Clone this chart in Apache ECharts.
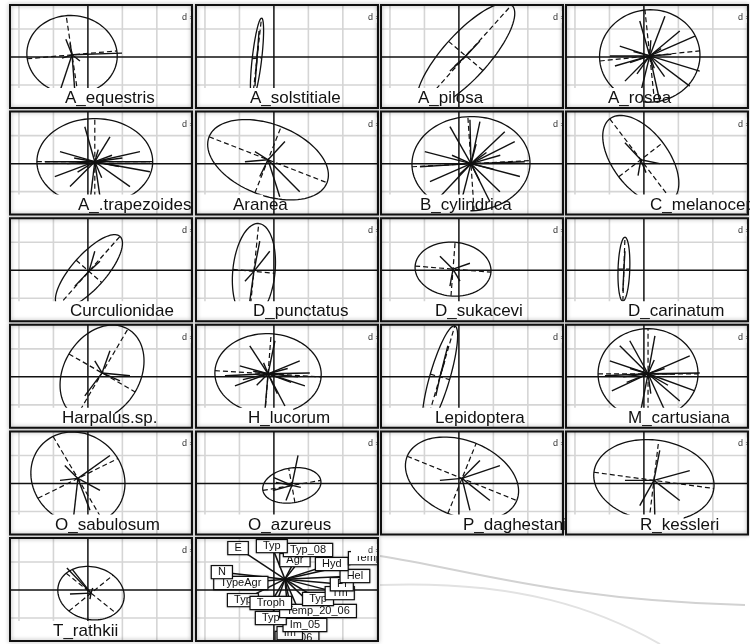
<!DOCTYPE html>
<html>
<head>
<meta charset="utf-8">
<script src="https://cdn.jsdelivr.net/npm/echarts@6/dist/echarts.min.js"></script>
<style>
  html, body { margin: 0; padding: 0; background: #fff; }
  #chart { width: 750px; height: 644px; }
</style>
</head>
<body>
<div id="chart"></div>
<script>
// Species (classes) shown one per panel, in reading order.
const speciesNames = [
  'A_equestris', 'A_solstitiale', 'A_pilosa', 'A_rosea',
  'A_.trapezoides', 'Aranea', 'B_cylindrica', 'C_melanocephalus',
  'Curculionidae', 'D_punctatus', 'D_sukacevi', 'D_carinatum',
  'Harpalus.sp.', 'H_lucorum', 'Lepidoptera', 'M_cartusiana',
  'O_sabulosum', 'O_azureus', 'P_daghestanic', 'R_kessleri',
  'T_rathkii'
];

// Class gravity centres (x, y) on the factorial plane.
const classCenters = [
  [-0.46, 0.08], [-0.49, -0.04], [0.20, 0.04], [0.17, 0.04],
  [0.20, 0.07], [-0.17, 0.14], [0.35, 0.00], [-0.09, 0.14],
  [0.03, -0.04], [-0.58, -0.04], [-0.17, 0.04], [-0.58, 0.04],
  [0.41, 0.14], [-0.17, 0.11], [-0.55, 0.00], [0.12, 0.11],
  [-0.29, 0.18], [0.52, -0.07], [0.09, 0.18], [0.29, 0.11],
  [0.09, -0.11]
];

// First semi-axis of each inertia ellipse.
const majorAxes = [
  [1.30, 0.14], [0.13, 1.43], [1.33, 1.82], [1.45, 0.18],
  [1.68, 0.00], [1.71, -0.82], [1.71, 0.11], [0.90, -1.46],
  [0.90, 1.25], [0.14, 1.71], [1.10, -0.11], [0.03, 1.14],
  [0.75, 1.57], [1.54, -0.11], [0.43, 1.82], [1.45, 0.00],
  [0.72, -1.50], [0.84, 0.18], [1.59, -0.79], [1.74, -0.29],
  [0.72, -0.71]
];

// Second semi-axis of each inertia ellipse.
const minorAxes = [
  [-0.17, 1.40], [0.14, 0.02], [0.50, -0.52], [-0.14, 1.64],
  [0.00, 1.54], [0.38, 1.18], [-0.09, 1.68], [0.64, 0.61],
  [0.37, -0.40], [0.61, -0.07], [0.06, 0.96], [0.17, 0.00],
  [0.96, -0.68], [0.09, 1.43], [0.28, -0.10], [0.00, 1.61],
  [1.16, 0.71], [-0.09, 0.61], [0.41, 1.25], [0.14, 1.43],
  [0.64, 0.64]
];

// Sample scores belonging to each class (star branches).
const samplePoints = [
  [[-0.81, -1.21], [-0.38, -1.21], [0.99, 0.14], [-0.64, 0.64], [-0.52, 0.50], [-0.75, -0.04], [-0.23, -0.14]],
  [[-0.43, 0.93], [-0.55, -1.04], [-0.46, 0.39], [-0.52, -0.50]],
  [[-0.26, -0.50], [0.61, 0.57], [0.32, 0.21], [-0.12, -0.32]],
  [[1.48, 0.75], [1.62, -0.50], [-0.70, 0.39], [-0.84, -0.32], [-0.12, -1.39], [0.46, -1.57], [0.61, 1.46], [-0.12, 1.29], [-0.99, 0.04], [1.33, -1.04], [1.04, 0.93], [-0.55, -0.86],
   [0.50, 0.30], [0.30, -0.40], [-0.30, 0.20], [0.80, 0.10], [-0.40, -0.20], [0.20, 0.60], [0.60, -0.70], [-0.20, -0.60]],
  [[1.51, 0.43], [1.80, -0.29], [-0.81, 0.43], [-0.96, -0.46], [0.06, -1.36], [0.35, -1.18], [-0.09, 1.32], [0.64, 0.96], [1.22, -0.82], [-0.52, -0.82], [-1.25, 0.07], [1.80, 0.07],
   [0.70, 0.30], [0.90, -0.10], [-0.40, 0.20], [-0.30, -0.30], [0.40, -0.50], [0.30, 0.50], [1.00, 0.20], [-0.60, 0.00]],
  [[0.75, -1.00], [0.17, -1.18], [-0.55, 0.43], [-0.84, 0.07], [0.32, 0.79], [-0.41, -0.46]],
  [[1.62, 0.79], [1.77, -0.46], [-0.99, 0.43], [-0.84, -0.64], [0.03, -1.54], [0.90, -1.36], [0.61, 1.50], [-0.26, 1.32], [1.19, -1.00], [-0.55, -1.18], [1.33, 1.14], [-1.13, -0.11], [0.32, 1.57], [1.91, 0.07],
   [0.80, 0.40], [1.00, -0.20], [-0.20, 0.30], [0.00, -0.40], [0.60, -0.60], [0.50, 0.70], [-0.40, 0.00], [1.20, 0.30]],
  [[-0.55, 0.75], [0.46, 0.00], [-0.17, -0.43], [0.06, -0.32]],
  [[-0.38, -0.57], [0.35, 0.32], [-0.09, -0.21], [0.20, 0.68]],
  [[-0.12, 0.68], [-0.70, -1.11], [-0.41, 1.04], [-0.84, -0.39]],
  [[0.32, 0.25], [-0.26, -0.57], [-0.55, 0.50], [0.03, -0.39]],
  [[-0.55, 0.68], [-0.61, -0.75]],
  [[0.93, -0.14], [0.20, 0.57], [-0.09, -0.68], [0.64, 0.93], [1.22, 0.04]],
  [[0.75, 0.57], [0.90, -0.32], [-0.99, 0.39], [-1.13, -0.32], [-0.26, -1.21], [0.32, -1.04], [0.03, 1.29], [-0.70, 1.11], [-1.42, 0.04], [1.04, 0.14],
   [0.40, 0.30], [0.50, -0.20], [-0.60, 0.20], [-0.50, -0.30], [0.10, -0.60], [-0.30, 0.50], [0.70, 0.00], [-0.90, -0.10]],
  [[-0.41, 0.57], [-0.67, -0.68], [-0.32, 1.11]],
  [[1.33, 0.75], [1.48, -0.50], [-0.99, 0.57], [-0.93, -0.50], [-0.12, -1.39], [0.61, -1.21], [0.32, 1.46], [-0.41, 1.29], [-1.13, 0.04], [1.62, 0.14], [1.04, -0.86], [-0.70, 1.11],
   [0.60, 0.30], [0.70, -0.30], [-0.40, 0.30], [-0.50, -0.20], [0.20, -0.60], [0.30, 0.60], [-0.60, 0.00], [0.90, 0.10]],
  [[-0.46, -1.68], [0.64, 1.00], [-0.67, 0.64], [0.35, -0.25], [-0.81, 0.11], [0.06, -0.96]],
  [[0.70, 1.00], [0.00, 0.21], [-0.03, -0.25], [0.35, -0.61], [0.78, -0.14], [0.06, 0.04]],
  [[1.19, 0.64], [0.90, -0.61], [-0.55, 0.11], [0.32, -0.96], [0.61, 0.82]],
  [[1.33, 0.46], [0.32, -1.32], [-0.55, 0.11], [1.04, -0.61], [0.46, 1.18], [-0.12, -0.79]],
  [[-0.61, 0.79], [-0.46, 0.75], [0.06, -0.32], [0.14, 0.07], [-0.52, -0.14]]
];

// Environmental variables shown in the last panel.
const variableNames = [
  'Im_06', 'Im', 'Im_05', 'Typ', 'Temp_20_06', 'Typ', 'Troph', 'Typ',
  'Tm', 'Pl', 'Hel', 'Hyd', 'TypeAgr', 'N', 'Agr', 'Temp_15',
  'Typ_08', 'Typ', 'E'
];
const variableX = [0.67, 0.46, 0.90, -0.09, 1.28, -0.90, -0.09, 1.28, 1.91, 1.97, 2.35, 1.68, -0.96, -1.51, 0.61, 3.01, 0.99, -0.06, -1.04];
const variableY = [-1.71, -1.54, -1.25, -1.00, -0.75, -0.36, -0.46, -0.32, -0.11, 0.21, 0.50, 0.93, 0.25, 0.64, 1.07, 1.14, 1.43, 1.57, 1.50];
const variableHub = [0.32, 0.39];

// Common plotting window (grid cell = 1 unit) and the scale legend.
const X_RANGE = [-2.26, 3.02];
const Y_RANGE = [-1.82, 1.86];
const SCALE_TEXT = 'd = 1';

// Panel layout.
const PANEL_LEFT = [10, 196, 381, 566];
const PANEL_TOP = [5, 111.6, 218.2, 324.8, 431.4, 538];
const PANEL_W = 182;
const PANEL_H = 103;
// Horizontal offset of each caption from its panel's left edge.
const captionOffset = [55, 54, 37, 42, 68, 37, 39, 84, 60, 57, 54, 62, 52, 52, 54, 62, 45, 52, 82, 74, 43];

const FONT = '"Liberation Sans", Arial, Helvetica, sans-serif';
const INK = '#111';

const measureCtx = document.createElement('canvas').getContext('2d');
function textWidth(txt, size) {
  measureCtx.font = size + 'px ' + FONT;
  return measureCtx.measureText(txt).width;
}

const chart = echarts.init(document.getElementById('chart'), null, { renderer: 'canvas' });

const grids = [], xAxes = [], yAxes = [], series = [];
const panelCount = speciesNames.length + 1;

for (let i = 0; i < panelCount; i++) {
  const col = i % 4, row = Math.floor(i / 4);
  grids.push({ left: PANEL_LEFT[col], top: PANEL_TOP[row], width: PANEL_W, height: PANEL_H, show: false });
  xAxes.push({ gridIndex: i, type: 'value', min: X_RANGE[0], max: X_RANGE[1], show: false });
  yAxes.push({ gridIndex: i, type: 'value', min: Y_RANGE[0], max: Y_RANGE[1], show: false });
}

// Background grid and the two principal axes.
function gridLayer(i) {
  return {
    type: 'custom', xAxisIndex: i, yAxisIndex: i, clip: true, silent: true, z: 1,
    data: [[0, 0]],
    renderItem: (params, api) => {
      const children = [];
      for (let gx = Math.ceil(X_RANGE[0]); gx <= Math.floor(X_RANGE[1]); gx++) {
        if (gx === 0) continue;
        const a = api.coord([gx, Y_RANGE[0]]), b = api.coord([gx, Y_RANGE[1]]);
        children.push({ type: 'line', shape: { x1: a[0], y1: a[1], x2: b[0], y2: b[1] }, style: { stroke: '#d5d5d5', lineWidth: 1.6 } });
      }
      for (let gy = Math.ceil(Y_RANGE[0]); gy <= Math.floor(Y_RANGE[1]); gy++) {
        if (gy === 0) continue;
        const a = api.coord([X_RANGE[0], gy]), b = api.coord([X_RANGE[1], gy]);
        children.push({ type: 'line', shape: { x1: a[0], y1: a[1], x2: b[0], y2: b[1] }, style: { stroke: '#d5d5d5', lineWidth: 1.6 } });
      }
      const h1 = api.coord([X_RANGE[0], 0]), h2 = api.coord([X_RANGE[1], 0]);
      const v1 = api.coord([0, Y_RANGE[0]]), v2 = api.coord([0, Y_RANGE[1]]);
      children.push({ type: 'line', shape: { x1: h1[0], y1: h1[1], x2: h2[0], y2: h2[1] }, style: { stroke: INK, lineWidth: 1.5 } });
      children.push({ type: 'line', shape: { x1: v1[0], y1: v1[1], x2: v2[0], y2: v2[1] }, style: { stroke: INK, lineWidth: 1.5 } });
      return { type: 'group', children };
    }
  };
}

// Inertia ellipse with its two dashed axes.
function ellipseLayer(i) {
  return {
    type: 'custom', xAxisIndex: i, yAxisIndex: i, clip: true, silent: true, z: 3,
    data: [[0, 0]],
    renderItem: (params, api) => {
      const c = classCenters[i], u = majorAxes[i], v = minorAxes[i];
      const pts = [];
      for (let s = 0; s <= 90; s++) {
        const t = s / 90 * Math.PI * 2;
        pts.push(api.coord([
          c[0] + u[0] * Math.cos(t) + v[0] * Math.sin(t),
          c[1] + u[1] * Math.cos(t) + v[1] * Math.sin(t)
        ]));
      }
      const seg = (p, q) => {
        const a = api.coord(p), b = api.coord(q);
        return { type: 'line', shape: { x1: a[0], y1: a[1], x2: b[0], y2: b[1] }, style: { stroke: INK, lineWidth: 1.2, lineDash: [5, 3] } };
      };
      return {
        type: 'group',
        children: [
          { type: 'polyline', shape: { points: pts }, style: { stroke: INK, lineWidth: 1.3, fill: null } },
          seg([c[0] - u[0], c[1] - u[1]], [c[0] + u[0], c[1] + u[1]]),
          seg([c[0] - v[0], c[1] - v[1]], [c[0] + v[0], c[1] + v[1]])
        ]
      };
    }
  };
}

// Star: each sample linked to its class centre.
function starLayer(i) {
  return {
    type: 'custom', xAxisIndex: i, yAxisIndex: i, clip: true, silent: true, z: 4,
    data: samplePoints[i],
    renderItem: (params, api) => {
      const a = api.coord(classCenters[i]);
      const b = api.coord([api.value(0), api.value(1)]);
      return { type: 'line', shape: { x1: a[0], y1: a[1], x2: b[0], y2: b[1] }, style: { stroke: INK, lineWidth: 1.4 } };
    }
  };
}

// Scale legend in the top-right corner.
function scaleLayer(i) {
  return {
    type: 'custom', xAxisIndex: i, yAxisIndex: i, clip: true, silent: true, z: 6,
    data: [[0, 0]],
    renderItem: (params) => {
      const cs = params.coordSys;
      const r = cs.x + cs.width;
      return {
        type: 'group',
        children: [
          { type: 'rect', shape: { x: r - 27, y: cs.y + 6, width: 27, height: 12 }, style: { fill: '#fff' } },
          { type: 'text', x: r - 10, y: cs.y + 12.5, style: { text: SCALE_TEXT, font: '9px ' + FONT, fill: '#333', verticalAlign: 'middle', align: 'left' } }
        ]
      };
    }
  };
}

// Caption strip and panel frame.
function frameLayer(i, caption) {
  return {
    type: 'custom', xAxisIndex: i, yAxisIndex: i, clip: false, silent: true, z: 8,
    data: [[0, 0]],
    renderItem: (params) => {
      const cs = params.coordSys;
      const children = [];
      if (caption) {
        const size = 17;
        const w = textWidth(caption, size);
        const left = cs.x + captionOffset[i];
        children.push({ type: 'rect', shape: { x: cs.x, y: cs.y + cs.height - 20, width: Math.min(captionOffset[i] + w * 0.55, cs.width), height: 20 }, style: { fill: '#fff' } });
        children.push({ type: 'text', x: left, y: cs.y + cs.height - 9.5, style: { text: caption, font: size + 'px ' + FONT, fill: INK, align: 'left', verticalAlign: 'middle' } });
      }
      children.push({
        type: 'rect', shape: { x: cs.x, y: cs.y, width: cs.width, height: cs.height },
        style: { fill: null, stroke: INK, lineWidth: 2, shadowBlur: 4, shadowColor: 'rgba(0,0,0,0.35)' }
      });
      return { type: 'group', children };
    }
  };
}

// Variable panel: links from the hub to every variable, then the boxed labels.
function variableLinks(i) {
  return {
    type: 'custom', xAxisIndex: i, yAxisIndex: i, clip: true, silent: true, z: 3,
    data: variableX.map((x, k) => [x, variableY[k]]),
    renderItem: (params, api) => {
      const a = api.coord(variableHub);
      const b = api.coord([api.value(0), api.value(1)]);
      return { type: 'line', shape: { x1: a[0], y1: a[1], x2: b[0], y2: b[1] }, style: { stroke: INK, lineWidth: 1.5 } };
    }
  };
}
function variableLabels(i) {
  return {
    type: 'custom', xAxisIndex: i, yAxisIndex: i, clip: true, silent: true, z: 5,
    data: variableX.map((x, k) => [x, variableY[k], k]),
    renderItem: (params, api) => {
      const p = api.coord([api.value(0), api.value(1)]);
      const k = api.value(2);
      return {
        type: 'text', x: p[0], y: p[1],
        style: {
          text: variableNames[k], font: '11px ' + FONT, fill: INK,
          align: 'center', verticalAlign: 'middle',
          backgroundColor: '#fff', borderColor: INK, borderWidth: 1.2, padding: [1, 6, 0, 6],
          shadowBlur: 2, shadowColor: 'rgba(0,0,0,0.3)'
        }
      };
    }
  };
}

for (let i = 0; i < speciesNames.length; i++) {
  series.push(gridLayer(i), ellipseLayer(i), starLayer(i), scaleLayer(i), frameLayer(i, speciesNames[i]));
}
const vp = speciesNames.length;
series.push(gridLayer(vp), variableLinks(vp), variableLabels(vp), scaleLayer(vp), frameLayer(vp, null));

chart.setOption({
  animation: false,
  backgroundColor: '#fff',
  grid: grids,
  xAxis: xAxes,
  yAxis: yAxes,
  graphic: [
    { type: 'bezierCurve', z: -1, silent: true, shape: { x1: 380, y1: 556, cpx1: 470, cpy1: 570, cpx2: 560, cpy2: 600, x2: 745, y2: 605 }, style: { stroke: '#d2d2d2', lineWidth: 2, fill: null } },
    { type: 'bezierCurve', z: -1, silent: true, shape: { x1: 380, y1: 585, cpx1: 520, cpy1: 580, cpx2: 600, cpy2: 610, x2: 660, y2: 644 }, style: { stroke: '#e2e2e2', lineWidth: 2, fill: null } }
  ],
  series
});
</script>
</body>
</html>
